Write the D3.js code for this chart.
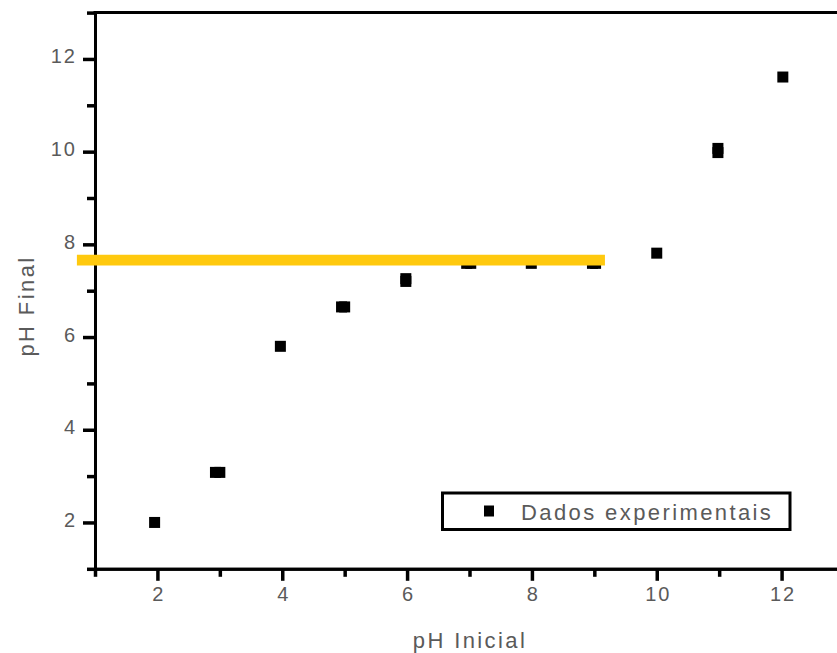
<!DOCTYPE html>
<html>
<head>
<meta charset="utf-8">
<script src="https://cdn.jsdelivr.net/npm/d3@7"></script>
<style>
  html, body { margin: 0; padding: 0; background: #fff; }
  svg { display: block; }
  text { font-family: "Liberation Sans", Arial, sans-serif; fill: #5a5a5a; }
</style>
</head>
<body>
<svg id="chart" width="837" height="653"></svg>
<script>
// ---- data ----
const phInicial = [1.955, 2.93, 3.00, 3.97, 4.95, 5.00, 5.98, 5.98, 6.955, 7.02, 7.99, 8.97, 9.02, 10.0, 10.98, 10.98, 12.02];
const phFinal   = [2.00, 3.08, 3.08, 5.80, 6.65, 6.65, 7.26, 7.20, 7.59, 7.59, 7.59, 7.59, 7.59, 7.81, 10.07, 9.98, 11.61];
const xMajorTicks = [2, 4, 6, 8, 10, 12];
const xMinorTicks = [1, 3, 5, 7, 9, 11, 13];
const yMajorTicks = [2, 4, 6, 8, 10, 12];
const yMinorTicks = [1, 3, 5, 7, 9, 11, 13];
const xDomain = [1, 13];
const yDomain = [1, 13];
const highlightLine = { x0: 0.71, x1: 9.17, y: 7.66 };
const xTitle = "pH Inicial";
const yTitle = "pH Final";
const legendLabel = "Dados experimentais";

const points = phInicial.map((x, i) => ({ x, y: phFinal[i] }));

const svg = d3.select("#chart");
const x = d3.scaleLinear().domain(xDomain).range([95, 844]);
const y = d3.scaleLinear().domain(yDomain).range([568.8, 12.6]);

// ---- axes ----
function styleAxis(g, width) {
  g.selectAll("path.domain").attr("stroke", "#000").attr("stroke-width", 3).attr("stroke-linecap", "square");
  g.selectAll(".tick line").attr("stroke", "#000").attr("stroke-width", width);
}

// minor ticks
svg.append("g").attr("transform", `translate(${x(1)},0)`)
  .call(d3.axisLeft(y).tickValues(yMinorTicks).tickSize(8).tickSizeOuter(0).tickFormat(""))
  .call(g => styleAxis(g, 3.5));
svg.append("g").attr("transform", `translate(0,${y(1)})`)
  .call(d3.axisBottom(x).tickValues(xMinorTicks).tickSize(8).tickSizeOuter(0).tickFormat(""))
  .call(g => styleAxis(g, 3.5));

// major ticks with labels
const yAx = svg.append("g").attr("transform", `translate(${x(1)},0)`)
  .call(d3.axisLeft(y).tickValues(yMajorTicks).tickSize(12).tickPadding(6).tickSizeOuter(0).tickFormat(d3.format("d")))
  .call(g => styleAxis(g, 3.5));
yAx.selectAll(".tick text").attr("font-size", 20).attr("letter-spacing", "2px")
  .attr("dy", "0.2em").attr("fill", "#5a5a5a").style("font-family", "'Liberation Sans', Arial, sans-serif");

const xAx = svg.append("g").attr("transform", `translate(0,${y(1)})`)
  .call(d3.axisBottom(x).tickValues(xMajorTicks).tickSize(12).tickPadding(6.5).tickSizeOuter(0).tickFormat(d3.format("d")))
  .call(g => styleAxis(g, 3.5));
xAx.selectAll(".tick text").attr("font-size", 20).attr("letter-spacing", "2px")
  .attr("dx", "1px").attr("fill", "#5a5a5a").style("font-family", "'Liberation Sans', Arial, sans-serif");

// top and right frame lines
svg.append("line").attr("x1", x(1)).attr("x2", x(13)).attr("y1", y(13)).attr("y2", y(13))
  .attr("stroke", "#000").attr("stroke-width", 3).attr("stroke-linecap", "square");
svg.append("line").attr("x1", x(13)).attr("x2", x(13)).attr("y1", y(13)).attr("y2", y(1))
  .attr("stroke", "#000").attr("stroke-width", 3).attr("stroke-linecap", "square");

// ---- axis titles ----
svg.append("text").attr("x", 470).attr("y", 648).attr("text-anchor", "middle")
  .attr("font-size", 22).attr("letter-spacing", "2.4px").text(xTitle);
svg.append("text").attr("transform", `translate(34,306) rotate(-90)`).attr("text-anchor", "middle")
  .attr("font-size", 22).attr("letter-spacing", "2.4px").text(yTitle);

// ---- data points ----
const S = 11;
svg.append("g").selectAll("rect").data(points).join("rect")
  .attr("x", d => x(d.x) - S / 2).attr("y", d => y(d.y) - S / 2)
  .attr("width", S).attr("height", S).attr("fill", "#000");

// ---- highlight line (drawn over points) ----
svg.append("line")
  .attr("x1", x(highlightLine.x0)).attr("x2", x(highlightLine.x1))
  .attr("y1", y(highlightLine.y)).attr("y2", y(highlightLine.y))
  .attr("stroke", "#FFC90E").attr("stroke-width", 10.7);

// ---- legend ----
const lg = svg.append("g");
lg.append("rect").attr("x", 442.5).attr("y", 493).attr("width", 347.5).attr("height", 36.5)
  .attr("fill", "#fff").attr("stroke", "#000").attr("stroke-width", 3);
lg.append("rect").attr("x", 484).attr("y", 505.5).attr("width", 10).attr("height", 11).attr("fill", "#000");
lg.append("text").attr("x", 521).attr("y", 520).attr("font-size", 22).attr("letter-spacing", "2.4px")
  .text(legendLabel);
</script>
</body>
</html>
